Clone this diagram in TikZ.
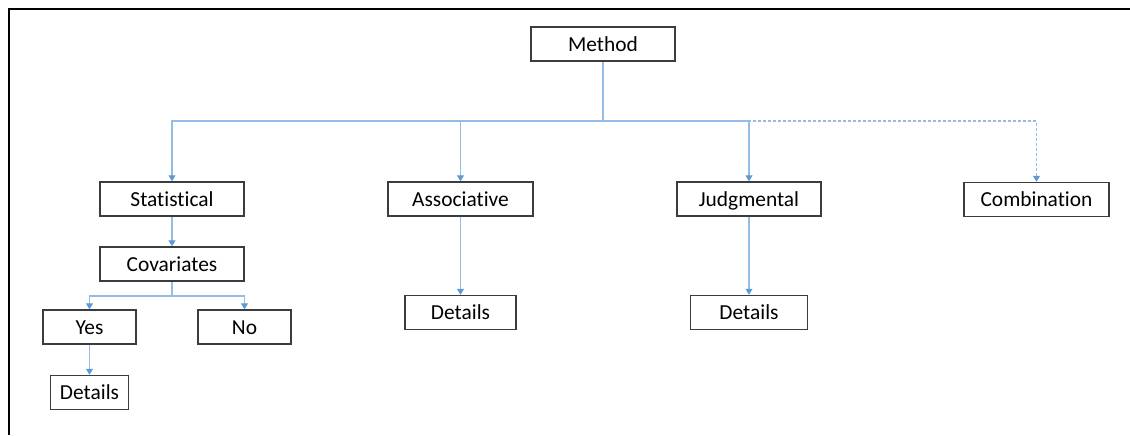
\documentclass[tikz,border=0pt]{standalone}
\usepackage{fontspec}
\setmainfont{Carlito}[Ligatures={NoCommon}]
\usetikzlibrary{arrows.meta}
\definecolor{linkblue}{RGB}{148,188,228}
\definecolor{tipblue}{RGB}{91,155,213}
\definecolor{boxgray}{RGB}{60,60,60}

\begin{document}
\begin{tikzpicture}[x=0.5pt,y=-0.5pt,
    box/.style={draw=boxgray,line width=0.75pt,minimum height=17pt,inner sep=0pt,
        text height=7pt,text depth=0pt,font=\fontsize{10.7pt}{12pt}\selectfont},
    link/.style={draw=linkblue,line width=0.55pt},
    tip/.style={-{Triangle[length=3pt,width=3.5pt,color=tipblue]}}]
        \useasboundingbox (0,0) rectangle (1130,435);
        \draw[line width=1.1pt] (9,435) -- (9,9) -- (1130,9);

        % boxes
        \node[box,minimum width=72pt] (method) at (603,44) {Method};
        \node[box,minimum width=72pt] (stat) at (172,199) {Statistical};
        \node[box,minimum width=72.5pt] (assoc) at (460.5,199) {Associative};
        \node[box,minimum width=72pt] (judg) at (749,199) {Judgmental};
        \node[box,minimum width=72.5pt] (comb) at (1036.5,199.5) {Combination};
        \node[box,minimum width=72pt] (cov) at (172,264) {Covariates};
        \node[box,minimum width=46.5pt] (yes) at (89.5,327) {Yes};
        \node[box,minimum width=46.5pt] (no) at (244.5,327) {No};
        \node[box,minimum width=39pt] (det1) at (89.5,392.5) {Details};
        \node[box,minimum width=55.5pt] (det2) at (460.5,312.5) {Details};
        \node[box,minimum width=58.5pt] (det3) at (749,312.5) {Details};

        % connectors
        \coordinate (bus) at (603,121);
        \coordinate (cbus) at (172,296);
        \draw[link] (method.south) -- (bus);
        \draw[link,tip] (bus) -| (stat.north);
        \draw[link,tip] (bus) -| (assoc.north);
        \draw[link,tip] (bus) -| (judg.north);
        \draw[link,dash pattern=on 1.5pt off 1pt,tip] (bus) -| (comb.north);
        \draw[link,tip] (stat.south) -- (cov.north);
        \draw[link] (cov.south) -- (cbus);
        \draw[link,tip] (cbus) -| (yes.north);
        \draw[link,tip] (cbus) -| (no.north);
        \draw[link,tip] (yes.south) -- (det1.north);
        \draw[link,tip] (assoc.south) -- (det2.north);
        \draw[link,tip] (judg.south) -- (det3.north);
\end{tikzpicture}
\end{document}
